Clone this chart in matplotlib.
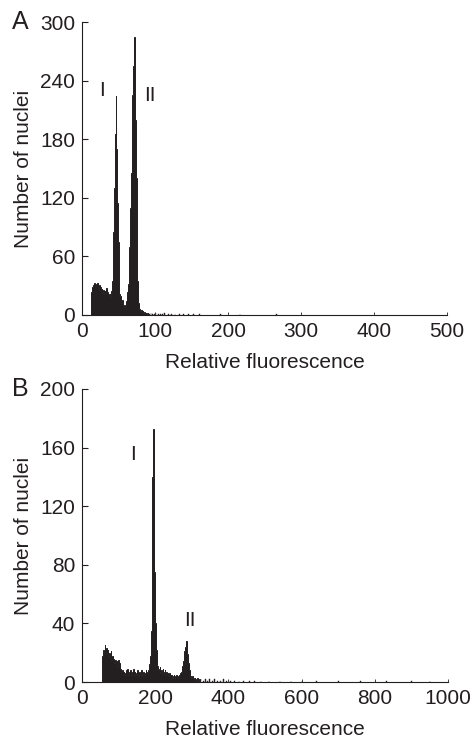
import numpy as np
import matplotlib.pyplot as plt

plt.rcParams['font.family'] = ['Liberation Sans', 'DejaVu Sans']
INK = '#231f20'

### Panel A : channel counts (channel width 1)
a_start = 12
a_counts = [10, 24, 29, 31, 28, 33, 30, 32, 29, 33, 28, 31, 27, 29, 25, 27,
            23, 26, 22, 25, 21, 28, 24, 20, 22, 19, 21, 18,
            25, 35, 55, 85, 130, 185, 224, 170, 115, 75, 40, 22, 19, 14, 12, 15, 10, 8, 9,
            10, 14, 18, 24, 32, 45, 70, 110, 145, 180, 225, 255, 285, 270, 200, 140, 80,
            35, 12, 6, 5, 4, 5, 3, 4, 2, 3, 2, 1, 2, 1, 2]
a_tail_x = [92, 94, 96, 99, 101, 104, 107, 110, 113, 118, 122, 127, 133, 139, 145, 152,
            160, 189, 216, 266]
a_tail_y = [1, 2, 1, 1, 2, 1, 1, 1, 2, 1, 1, 1, 1, 1, 1, 1, 1, 1, 1, 1]

### Panel B : channel counts (channel width 2)
b_start = 56
b_counts = [18, 22, 20, 25, 21, 23, 19, 22, 18, 20, 17, 21, 15, 18, 14, 16, 13, 15,
            12, 14, 11, 15, 10, 13, 9, 7, 6, 8, 5, 7, 6, 5, 8, 6, 9, 5, 7, 6, 8, 5,
            7, 6, 9, 5, 7, 6, 5, 8, 6, 4, 7, 5, 6, 8, 5, 6, 7, 5, 6, 8, 6, 7, 8, 9,
            12, 18, 35, 95, 140, 173, 125, 75, 40, 22, 14, 11, 9, 8, 10, 7, 8, 6, 9, 7,
            6, 8, 5, 7, 6, 5, 4, 6, 5, 4, 5, 3, 4, 5, 3, 4, 3, 5, 4, 3, 5, 4, 6, 7,
            9, 11, 14, 17, 21, 24, 28, 25, 19, 13, 8, 5, 4, 3, 4, 2, 3, 2, 3, 2, 1, 3,
            2, 1, 2]
b_tail_x = [324, 330, 336, 342, 348, 356, 362, 370, 378, 386, 394, 404, 416, 428, 440,
            456, 470, 488, 510, 540, 570, 600, 640, 700, 760, 830, 900, 950]
b_tail_y = [2, 1, 2, 1, 2, 1, 2, 1, 1, 2, 1, 1, 1, 1, 1, 1, 1, 1, 1, 1, 1, 1, 1, 1, 1,
            1, 1, 1]

fig = plt.figure(figsize=(4.74, 7.41), dpi=100)
FS = 15

def panel(rect, start, counts, width, tx, ty, xmax, ymax, ystep, letter):
    ax = fig.add_axes(rect)
    edges = start + width * np.arange(len(counts) + 1)
    ax.stairs(counts, edges, fill=True, facecolor=INK, edgecolor=INK, lw=0.7)
    ax.bar(tx, ty, width=width, align='edge', color=INK, lw=0.3, edgecolor=INK)
    ax.set_xlim(0, xmax)
    ax.set_ylim(0, ymax)
    ax.set_xticks(np.arange(0, xmax + 1, xmax // 5))
    ax.set_yticks(np.arange(0, ymax + 1, ystep))
    for s in ['top', 'right']:
        ax.spines[s].set_visible(False)
    for s in ['left', 'bottom']:
        ax.spines[s].set_color(INK)
        ax.spines[s].set_linewidth(0.8)
    ax.tick_params(axis='y', direction='in', length=4, width=0.8, pad=5,
                   labelsize=FS, colors=INK)
    ax.tick_params(axis='x', direction='in', length=2, width=0.6, pad=5,
                   labelsize=FS, colors=INK)
    ax.set_xlabel('Relative fluorescence', fontsize=FS, color=INK, labelpad=9)
    ax.set_ylabel('Number of nuclei', fontsize=FS, color=INK, labelpad=5)
    pos = ax.get_position()
    fig.text(12 / 474, pos.y1, letter, fontsize=18, color=INK, va='center')
    return ax

### A
ax1 = panel([82/474, 1 - 315/741, 365/474, 293/741], a_start, a_counts, 1,
            a_tail_x, a_tail_y, 500, 300, 60, 'A')
ax1.text(27, 230, 'I', fontsize=FS, color=INK, ha='center', va='center')
ax1.text(93, 225, 'II', fontsize=FS, color=INK, ha='center', va='center')

### B
ax2 = panel([82/474, 1 - 682/741, 366/474, 293/741], b_start, b_counts, 2,
            b_tail_x, b_tail_y, 1000, 200, 40, 'B')
ax2.text(139, 155, 'I', fontsize=FS, color=INK, ha='center', va='center')
ax2.text(295, 42, 'II', fontsize=FS, color=INK, ha='center', va='center')

plt.savefig('out.png', dpi=100)
